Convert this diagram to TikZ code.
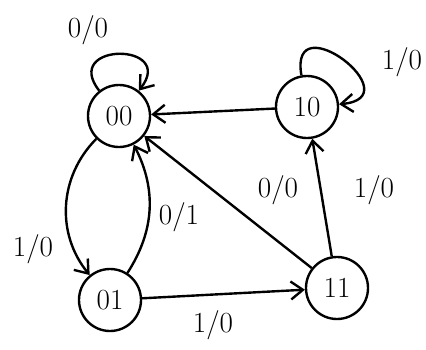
\documentclass[tikz,border=0pt]{standalone}
\usetikzlibrary{arrows.meta}
\tikzstyle{state} = [circle, 
minimum size=1.55cm, 
inner sep=0pt, 
draw=black, 
line width=1.7pt, 
font=\huge]
\tikzstyle{arrow} = [-{Straight Barb[length=3mm, width=4.5mm]}, line width=1.7pt]
\tikzstyle{lbl} = [font=\huge]

\begin{document}
\begin{tikzpicture}[x=0.025cm, y=-0.025cm]
		
		% Canvas boundary
		\useasboundingbox (0,0) rectangle (426,349);
		
		% States
		\node[state] (s00) at (119,116) {00};
		\node[state] (s10) at (307,107) {10};
		\node[state] (s01) at (110,300) {01};
		\node[state] (s11) at (337,288) {11};
		
		% Self loops
		\draw[arrow] (s00) to[out=128, in=52, looseness=4] (s00);
		\draw[arrow] (s10) to[out=100, in=5, looseness=4] (s10);
		
		% Transitions
		\draw[arrow] (s10) -- (s00);
		\draw[arrow] (s11) -- (s10);
		\draw[arrow] (s11) -- (s00);
		\draw[arrow] (s01) -- (s11);
		\draw[arrow] (s00) to[bend right=42] (s01);
		\draw[arrow] (s01) to[bend right=30] (s00);
		
		% Transition labels
		\node[lbl] (l00) at (88,30) {0/0};
		\node[lbl] (l10) at (402,62) {1/0};
		\node[lbl] (l1110) at (374,190) {1/0};
		\node[lbl] (l1100) at (278,190) {0/0};
		\node[lbl] (l0111) at (213,325) {1/0};
		\node[lbl] (l0001) at (33,249) {1/0};
		\node[lbl] (l0100) at (179,217) {0/1};
		
	\end{tikzpicture}
\end{document}
